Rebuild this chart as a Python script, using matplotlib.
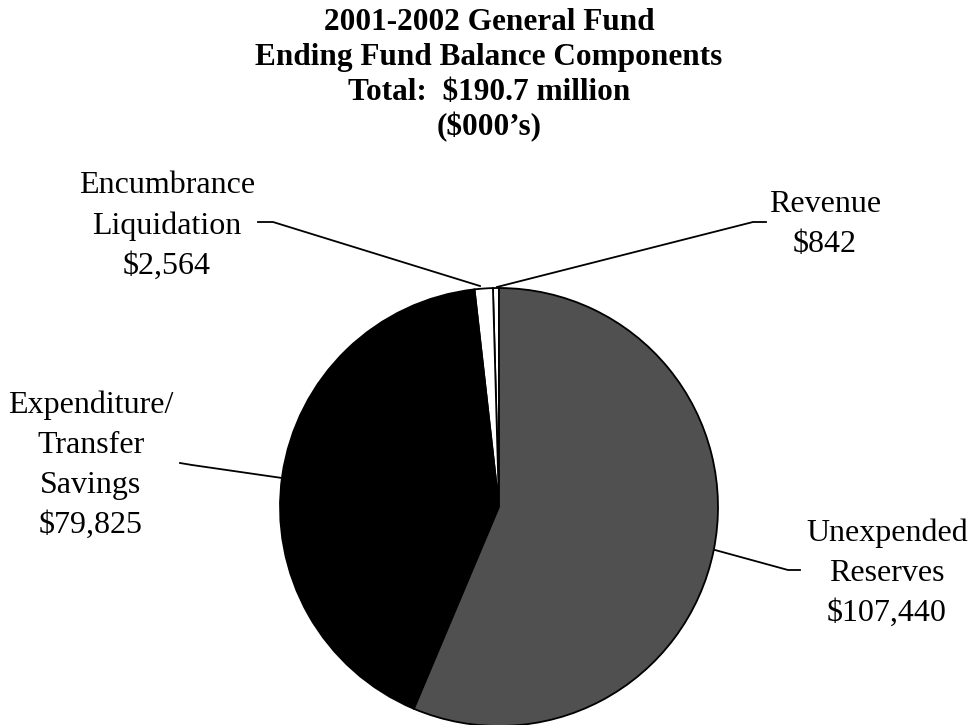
import matplotlib.pyplot as plt

# Ending fund balance components, $000's
componentes = ["Revenue", "Encumbrance\nLiquidation", "Expenditure/\nTransfer\nSavings", "Unexpended\nReserves"]
montos = [842, 2564, 79825, 107440]
colores = ["white", "white", "black", "#505050"]

titulo = ["2001-2002 General Fund", "Ending Fund Balance Components",
          "Total:  $190.7 million", "($000\u2019s)"]

W, H = 970, 725
plt.rcParams['font.family'] = ['Liberation Serif', 'DejaVu Serif']

fig = plt.figure(figsize=(W / 100, H / 100), dpi=100)
ax = fig.add_axes([0, 0, 1, 1])


def py(y):
    # fila en pixeles (desde arriba) -> y de datos
    return H - y


cx, cy, r = 499, 507, 219
ax.pie(montos, colors=colores, startangle=90, counterclock=True,
       center=(cx, py(cy)), radius=r, frame=True,
       wedgeprops=dict(edgecolor='black', linewidth=1.3))
ax.set_xlim(0, W)
ax.set_ylim(0, H)
ax.set_aspect('equal')
ax.axis('off')

# titulo
for i, linea in enumerate(titulo):
    ax.text(489, py(22 + 35 * i), linea, ha='center', va='center',
            fontsize=22.5, fontweight='bold')


def etiqueta(x, y, nombre, valor, puntos):
    texto = nombre + "\n${:,}".format(valor)
    ax.text(x, py(y), texto, ha='center', va='center', fontsize=23,
            linespacing=1.5)
    xs = [p[0] for p in puntos]
    ys = [py(p[1]) for p in puntos]
    ax.plot(xs, ys, color='black', linewidth=1.3)


etiqueta(167, 226, componentes[1], montos[1], [(258, 222), (273, 222), (480, 286)])
etiqueta(825, 224, componentes[0], montos[0], [(766, 222), (753, 222), (497, 287)])
etiqueta(91, 465, componentes[2], montos[2], [(180, 463), (192, 465), (282, 478)])
etiqueta(887, 573, componentes[3], montos[3], [(800, 570), (788, 570), (715, 550)])

plt.savefig('out.png', dpi=100)
